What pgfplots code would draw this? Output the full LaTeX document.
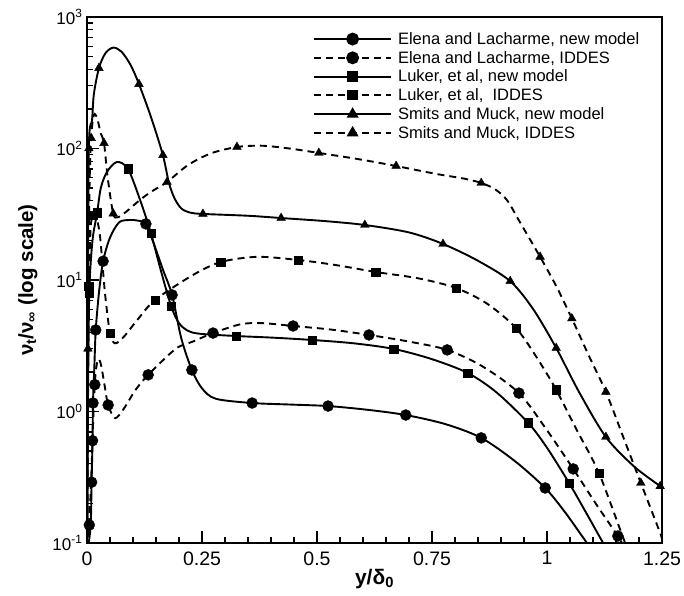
\documentclass[border=0pt]{standalone}
\usepackage{pgfplots}
\pgfplotsset{compat=1.18}
\usepackage{fontspec}
\setmainfont{Liberation Sans}
\pgfplotsset{
  ln/.style={black, line width=1.9pt, smooth, tension=0.5, no marks, forget plot},
  dn/.style={black, line width=1.9pt, dash pattern=on 7pt off 5pt, smooth, tension=0.5, no marks, forget plot},
  mc/.style={black, only marks, mark=*, mark size=5.5pt, forget plot},
  ms/.style={black, only marks, mark=square*, mark size=4.2pt, forget plot},
  mt/.style={black, only marks, mark=triangle*, mark size=5pt, forget plot},
}
\begin{document}
\begin{tikzpicture}
\begin{axis}[
  name=ax,
  scale only axis, width=575pt, height=526pt,
  xmin=0, xmax=1.25, ymode=log, ymin=0.1, ymax=1000,
  axis line style={line width=2pt},
  tick pos=left, tick align=inside,
  major tick length=12pt, minor tick length=6pt,
  every tick/.style={black, line width=1.3pt},
  xtick={0,0.25,0.5,0.75,1,1.25},
  xticklabels={0,0.25,0.5,0.75,1,1.25},
  minor x tick num=4,
  ytick={0.1,1,10,100,1000},
  yticklabels={10\textsuperscript{-1},10\textsuperscript{0},10\textsuperscript{1},10\textsuperscript{2},10\textsuperscript{3}},
  xticklabel style={font=\fontsize{19.5}{22}\selectfont, yshift=-5pt},
  yticklabel style={font=\fontsize{17}{20}\selectfont, xshift=-1pt},
  xlabel={\textbf{y/δ\textsubscript{0}}},
  ylabel={\textbf{ν\textsubscript{t}/ν\textsubscript{∞} (log scale)}},
  xlabel style={font=\fontsize{21}{25}\selectfont, at={(axis description cs:0.5,0)}, anchor=north, yshift=-23pt},
  ylabel style={font=\fontsize{20.5}{24}\selectfont, at={(axis description cs:-0.103,0.5)}, anchor=center},
  legend image code/.code={\draw[mark repeat=2,mark phase=2,#1] plot coordinates {(0pt,0pt) (38.5pt,0pt) (77pt,0pt)};},
  legend style={at={(axis description cs:0.393,0.975)}, anchor=north west, draw=none, fill=none,
    font=\fontsize{16.5}{19}\selectfont, row sep=1.3pt, column sep=4pt, inner sep=0pt},
  legend cell align=left,
]
% Elena and Lacharme, new model
\addplot[ln] coordinates {(0.002,0.09) (0.008,0.137) (0.010,0.29) (0.012,0.6) (0.013,1.16) (0.016,2.2) (0.019,4.17) (0.026,8) (0.035,13.9) (0.05,21) (0.07,27.5) (0.093,28.6) (0.11,28.3) (0.128,26.7) (0.145,19) (0.165,12) (0.185,7.7) (0.205,3.6) (0.228,2.07) (0.25,1.5) (0.28,1.25) (0.359,1.16) (0.44,1.13) (0.524,1.10) (0.61,1.03) (0.693,0.94) (0.78,0.8) (0.857,0.63) (0.93,0.42) (0.996,0.262) (1.04,0.17) (1.087,0.1) (1.1,0.09)};
\addplot[mc] coordinates {(0.010,0.29) (0.013,1.16) (0.019,4.17) (0.035,13.9) (0.128,26.7) (0.185,7.7) (0.228,2.07) (0.359,1.16) (0.524,1.10) (0.693,0.94) (0.857,0.63) (0.996,0.262)};
% Elena and Lacharme, IDDES
\addplot[dn] coordinates {(0.001,0.09) (0.005,0.137) (0.009,0.3) (0.012,0.6) (0.015,1.2) (0.019,2.0) (0.024,2.5) (0.03,2.3) (0.038,1.6) (0.046,1.12) (0.061,0.89) (0.08,1.05) (0.105,1.45) (0.133,1.9) (0.193,3.0) (0.23,3.4) (0.274,3.95) (0.333,4.6) (0.38,4.7) (0.448,4.47) (0.53,4.2) (0.613,3.82) (0.7,3.4) (0.783,2.94) (0.86,2.2) (0.939,1.38) (1.0,0.72) (1.057,0.366) (1.11,0.19) (1.154,0.113) (1.17,0.09)};
\addplot[mc] coordinates {(0.005,0.137) (0.012,0.6) (0.017,1.6) (0.046,1.12) (0.133,1.9) (0.274,3.95) (0.448,4.47) (0.613,3.82) (0.783,2.94) (0.939,1.38) (1.057,0.366) (1.154,0.113)};
% Luker et al, new model
\addplot[ln] coordinates {(0.0005,0.09) (0.002,1) (0.005,8) (0.012,20) (0.022,32.4) (0.030,50) (0.043,66) (0.065,79) (0.089,70) (0.115,41) (0.139,22.7) (0.16,12) (0.183,6.3) (0.20,4.7) (0.22,4.1) (0.246,3.9) (0.324,3.75) (0.40,3.65) (0.489,3.5) (0.58,3.3) (0.667,2.99) (0.75,2.5) (0.828,1.96) (0.89,1.4) (0.959,0.82) (1.0,0.53) (1.048,0.286) (1.085,0.17) (1.122,0.1) (1.13,0.09)};
\addplot[ms] coordinates {(0.005,8) (0.022,32.4) (0.089,70) (0.139,22.7) (0.183,6.3) (0.324,3.75) (0.489,3.5) (0.667,2.99) (0.828,1.96) (0.959,0.82) (1.048,0.286)};
% Luker et al, IDDES
\addplot[dn] coordinates {(0.0005,0.09) (0.002,1.5) (0.004,9) (0.008,25) (0.013,31) (0.018,32) (0.028,22) (0.039,8) (0.050,3.95) (0.061,3.3) (0.08,3.7) (0.11,5) (0.148,7.05) (0.23,10.9) (0.291,13.7) (0.37,15) (0.459,14.2) (0.54,13) (0.628,11.5) (0.72,10.3) (0.802,8.7) (0.87,6.6) (0.933,4.3) (0.98,2.5) (1.02,1.46) (1.065,0.72) (1.113,0.34) (1.17,0.1) (1.18,0.09)};
\addplot[ms] coordinates {(0.004,9) (0.013,31) (0.050,3.95) (0.148,7.05) (0.291,13.7) (0.459,14.2) (0.628,11.5) (0.802,8.7) (0.933,4.3) (1.02,1.46) (1.113,0.34)};
% Smits and Muck, new model
\addplot[ln] coordinates {(0.0005,0.09) (0.002,3) (0.004,100) (0.011,165) (0.015,260) (0.026,409) (0.04,530) (0.057,585) (0.075,545) (0.095,430) (0.113,309) (0.14,170) (0.165,89) (0.178,55) (0.19,42) (0.205,35) (0.225,32.5) (0.252,31.8) (0.35,30.8) (0.422,29.6) (0.52,28) (0.604,26.2) (0.70,23) (0.774,18.8) (0.85,14) (0.92,9.8) (0.97,6) (1.02,3.04) (1.07,1.4) (1.128,0.64) (1.19,0.38) (1.25,0.265)};
\addplot[mt] coordinates {(0.002,3) (0.004,100) (0.026,409) (0.113,309) (0.165,89) (0.252,31.8) (0.422,29.6) (0.604,26.2) (0.774,18.8) (0.92,9.8) (1.02,3.04) (1.128,0.64) (1.246,0.27)};
% Smits and Muck, IDDES
\addplot[dn] coordinates {(0.0005,0.09) (0.002,2) (0.005,40) (0.009,120) (0.015,180) (0.022,170) (0.030,130) (0.037,110) (0.045,60) (0.057,32) (0.067,30) (0.085,33) (0.115,40.6) (0.14,47) (0.174,55.6) (0.22,75) (0.27,92) (0.326,102.6) (0.38,105) (0.44,100) (0.504,92.5) (0.59,83) (0.672,73.6) (0.76,64) (0.82,59) (0.857,54.7) (0.887,49) (0.913,40.5) (0.94,28) (0.985,15) (1.02,9) (1.054,5.1) (1.09,2.7) (1.128,1.41) (1.165,0.65) (1.204,0.286) (1.246,0.119) (1.25,0.105)};
\addplot[mt] coordinates {(0.009,120) (0.037,110) (0.057,32) (0.174,55.6) (0.326,102.6) (0.504,92.5) (0.672,73.6) (0.857,54.7) (0.985,15) (1.054,5.1) (1.128,1.41) (1.204,0.286)};
% legend
\addlegendimage{black, line width=1.9pt, mark=*, mark size=5.5pt}
\addlegendentry{Elena and Lacharme, new model}
\addlegendimage{black, line width=1.9pt, dash pattern=on 7pt off 5pt, mark=*, mark size=5.5pt, mark options={solid}}
\addlegendentry{Elena and Lacharme, IDDES}
\addlegendimage{black, line width=1.9pt, mark=square*, mark size=4.2pt}
\addlegendentry{Luker, et al, new model}
\addlegendimage{black, line width=1.9pt, dash pattern=on 7pt off 5pt, mark=square*, mark size=4.2pt, mark options={solid}}
\addlegendentry{Luker, et al,\ \ IDDES}
\addlegendimage{black, line width=1.9pt, mark=triangle*, mark size=5pt}
\addlegendentry{Smits and Muck, new model}
\addlegendimage{black, line width=1.9pt, dash pattern=on 7pt off 5pt, mark=triangle*, mark size=5pt, mark options={solid}}
\addlegendentry{Smits and Muck, IDDES}
\end{axis}
\pgfresetboundingbox
\path[use as bounding box] ([xshift=-87pt,yshift=-53pt]ax.south west) rectangle ([xshift=22pt,yshift=17pt]ax.north east);
\end{tikzpicture}
\end{document}
